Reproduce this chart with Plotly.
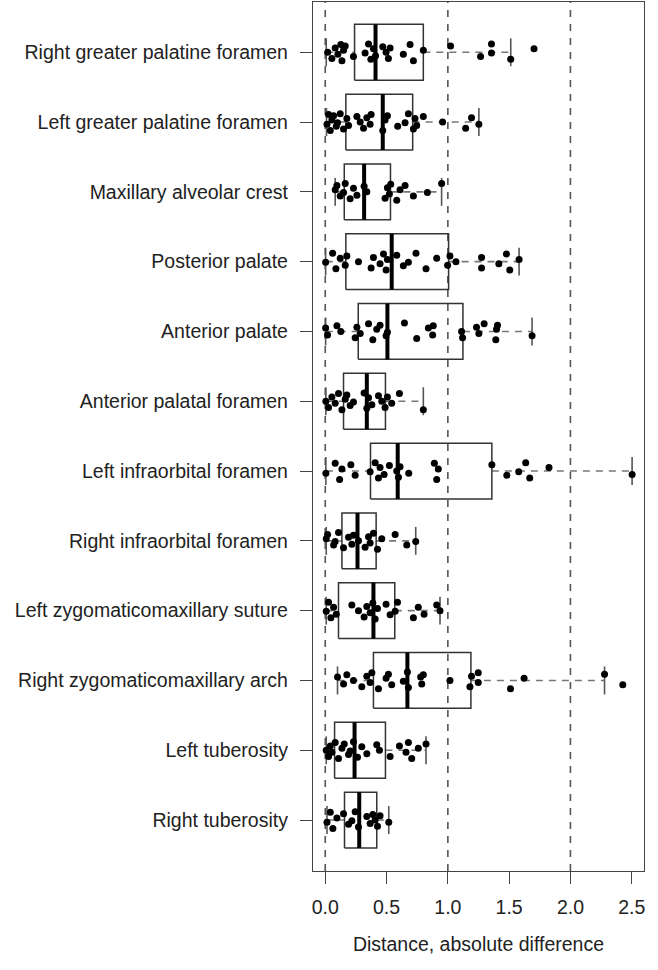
import plotly.graph_objects as go

CATS = ["Right greater palatine foramen", "Left greater palatine foramen",
        "Maxillary alveolar crest", "Posterior palate", "Anterior palate",
        "Anterior palatal foramen", "Left infraorbital foramen",
        "Right infraorbital foramen", "Left zygomaticomaxillary suture",
        "Right zygomaticomaxillary arch", "Left tuberosity", "Right tuberosity"]

Q1 = [0.239, 0.168, 0.155, 0.168, 0.269, 0.149, 0.369, 0.136, 0.108, 0.393, 0.076, 0.157]
MED = [0.41, 0.469, 0.317, 0.542, 0.507, 0.339, 0.591, 0.263, 0.393, 0.67, 0.239, 0.277]
Q3 = [0.80, 0.713, 0.532, 1.006, 1.123, 0.491, 1.359, 0.415, 0.567, 1.188, 0.491, 0.42]
WLO = [0.008, 0.01, 0.081, 0.003, 0.003, 0.005, 0.005, 0.008, 0.008, 0.10, 0.008, 0.014]
WHI = [1.513, 1.253, 0.949, 1.581, 1.687, 0.80, 2.503, 0.738, 0.936, 2.278, 0.822, 0.518]

P_RGPF = [0.02, 0.054, 0.081, 0.103, 0.127, 0.136, 0.149, 0.163, 0.23, 0.325, 0.353, 0.372, 0.393, 0.41,
          0.469, 0.496, 0.515, 0.529, 0.637, 0.692, 0.719, 0.80, 1.022, 1.267, 1.356, 1.356, 1.513, 1.703]
P_LGPF = [0.014, 0.027, 0.041, 0.054, 0.068, 0.09, 0.10, 0.122, 0.149, 0.176, 0.19, 0.258, 0.285, 0.312,
          0.339, 0.366, 0.374, 0.469, 0.488, 0.507, 0.591, 0.651, 0.678, 0.719, 0.732, 0.746, 0.80,
          0.957, 1.145, 1.193, 1.253]
P_MAC = [0.081, 0.095, 0.122, 0.149, 0.163, 0.203, 0.23, 0.258, 0.317, 0.339, 0.488, 0.507, 0.523,
         0.534, 0.583, 0.61, 0.651, 0.719, 0.833, 0.949]
P_PP = [0.003, 0.06, 0.087, 0.122, 0.163, 0.176, 0.271, 0.374, 0.393, 0.447, 0.475, 0.496, 0.507, 0.583,
        0.637, 0.678, 0.74, 0.822, 0.909, 0.998, 1.017, 1.066, 1.275, 1.275, 1.416, 1.478, 1.505, 1.581]
P_AP = [0.003, 0.019, 0.095, 0.127, 0.244, 0.258, 0.285, 0.353, 0.388, 0.42, 0.447, 0.496, 0.507, 0.646,
        0.746, 0.841, 0.876, 0.881, 1.112, 1.12, 1.234, 1.253, 1.296, 1.391, 1.397, 1.405, 1.687]
P_APF = [0.005, 0.027, 0.054, 0.081, 0.108, 0.136, 0.163, 0.176, 0.203, 0.23, 0.317, 0.339, 0.353, 0.38,
         0.434, 0.461, 0.488, 0.507, 0.542, 0.605, 0.80]
P_LIF = [0.005, 0.081, 0.117, 0.136, 0.209, 0.244, 0.366, 0.407, 0.434, 0.447, 0.48, 0.523, 0.583, 0.597,
         0.61, 0.681, 0.89, 0.909, 0.922, 1.359, 1.481, 1.578, 1.635, 1.668, 1.825, 2.503]
P_RIF = [0.008, 0.019, 0.068, 0.081, 0.108, 0.149, 0.19, 0.217, 0.23, 0.271, 0.325, 0.353, 0.366, 0.393,
         0.426, 0.461, 0.57, 0.665, 0.738]
P_LZS = [0.008, 0.027, 0.046, 0.068, 0.09, 0.217, 0.271, 0.317, 0.339, 0.366, 0.388, 0.407, 0.426, 0.496,
         0.529, 0.57, 0.589, 0.719, 0.759, 0.806, 0.909, 0.936]
P_RZA = [0.10, 0.149, 0.176, 0.23, 0.298, 0.339, 0.366, 0.38, 0.434, 0.496, 0.515, 0.542, 0.637, 0.67,
         0.678, 0.778, 0.787, 0.80, 1.017, 1.18, 1.193, 1.248, 1.248, 1.511, 1.622, 2.278, 2.427]
P_LT = [0.008, 0.027, 0.041, 0.054, 0.081, 0.108, 0.136, 0.155, 0.19, 0.203, 0.23, 0.263, 0.298, 0.339,
        0.42, 0.442, 0.529, 0.605, 0.659, 0.678, 0.705, 0.759, 0.822]
P_RT = [0.014, 0.041, 0.062, 0.095, 0.149, 0.19, 0.217, 0.244, 0.271, 0.339, 0.366, 0.388, 0.407, 0.426,
        0.447, 0.518]

POINTS = [P_RGPF, P_LGPF, P_MAC, P_PP, P_AP, P_APF, P_LIF, P_RIF, P_LZS, P_RZA, P_LT, P_RT]

XTICKS = [0.0, 0.5, 1.0, 1.5, 2.0, 2.5]
XTICKTEXT = ["0.0", "0.5", "1.0", "1.5", "2.0", "2.5"]
REFLINES = [0, 1, 2]

# style constants
JIT = [0.0, -0.09, 0.06, -0.03, 0.11, -0.12, 0.03, 0.09, -0.06, -0.01, 0.12, -0.1, 0.05, -0.05, 0.08]
HW = 0.4      # half box width
SW = 0.2      # half staple width
FONT = "Liberation Sans, Arial, sans-serif"

n = len(CATS)
pos = [n - i for i in range(n)]

bx, by, mx, my, wx, wy, sx, sy = [], [], [], [], [], [], [], []
for i in range(n):
    p = pos[i]
    bx += [Q1[i], Q3[i], Q3[i], Q1[i], Q1[i], None]
    by += [p - HW, p - HW, p + HW, p + HW, p - HW, None]
    mx += [MED[i], MED[i], None]
    my += [p - HW, p + HW, None]
    wx += [WLO[i], Q1[i], None, Q3[i], WHI[i], None]
    wy += [p, p, None, p, p, None]
    sx += [WLO[i], WLO[i], None, WHI[i], WHI[i], None]
    sy += [p - SW, p + SW, None, p - SW, p + SW, None]

px, py = [], []
for i in range(n):
    for k, v in enumerate(POINTS[i]):
        px.append(v)
        py.append(pos[i] + JIT[(k + 3 * i) % len(JIT)])

fig = go.Figure()
fig.add_trace(go.Scatter(x=wx, y=wy, mode="lines", line=dict(color="#777777", width=1.6, dash="7px,6px"),
                         hoverinfo="skip"))
fig.add_trace(go.Scatter(x=sx, y=sy, mode="lines", line=dict(color="#555555", width=1.6), hoverinfo="skip"))
fig.add_trace(go.Scatter(x=bx, y=by, mode="lines", line=dict(color="#333333", width=1.5), hoverinfo="skip"))
fig.add_trace(go.Scatter(x=mx, y=my, mode="lines", line=dict(color="#000000", width=4), hoverinfo="skip"))
fig.add_trace(go.Scatter(x=px, y=py, mode="markers", marker=dict(color="#000000", size=7),
                         hoverinfo="x"))

for v in REFLINES:
    fig.add_shape(type="line", xref="x", yref="paper", x0=v, x1=v, y0=0, y1=1,
                  line=dict(color="#555555", width=1.6, dash="7px,7px"), layer="below")

fig.update_layout(
    width=658, height=970,
    margin=dict(l=313, r=14, t=2, b=99),
    paper_bgcolor="white", plot_bgcolor="white",
    showlegend=False,
    font=dict(family=FONT, size=19.5, color="#222222"),
)
fig.update_xaxes(range=[-0.1, 2.6], tickvals=XTICKS, ticktext=XTICKTEXT,
                 showgrid=False, zeroline=False, showline=True, mirror=True,
                 linecolor="#444444", linewidth=1.3, ticks="outside", ticklen=12,
                 tickcolor="#444444", tickwidth=1.3, ticklabelstandoff=6,
                 title=dict(text="Distance, absolute difference", standoff=20,
                            font=dict(size=19.5, color="#222222")))
fig.update_yaxes(range=[0.27, 12.72], tickvals=pos, ticktext=CATS,
                 showgrid=False, zeroline=False, showline=True, mirror=True,
                 linecolor="#444444", linewidth=1.3, ticks="outside", ticklen=12,
                 tickcolor="#444444", tickwidth=1.3, ticklabelstandoff=8)

fig.write_html("out.html", config={"displayModeBar": False},
               post_script="document.body.style.margin='0px';document.body.style.overflow='hidden';")
